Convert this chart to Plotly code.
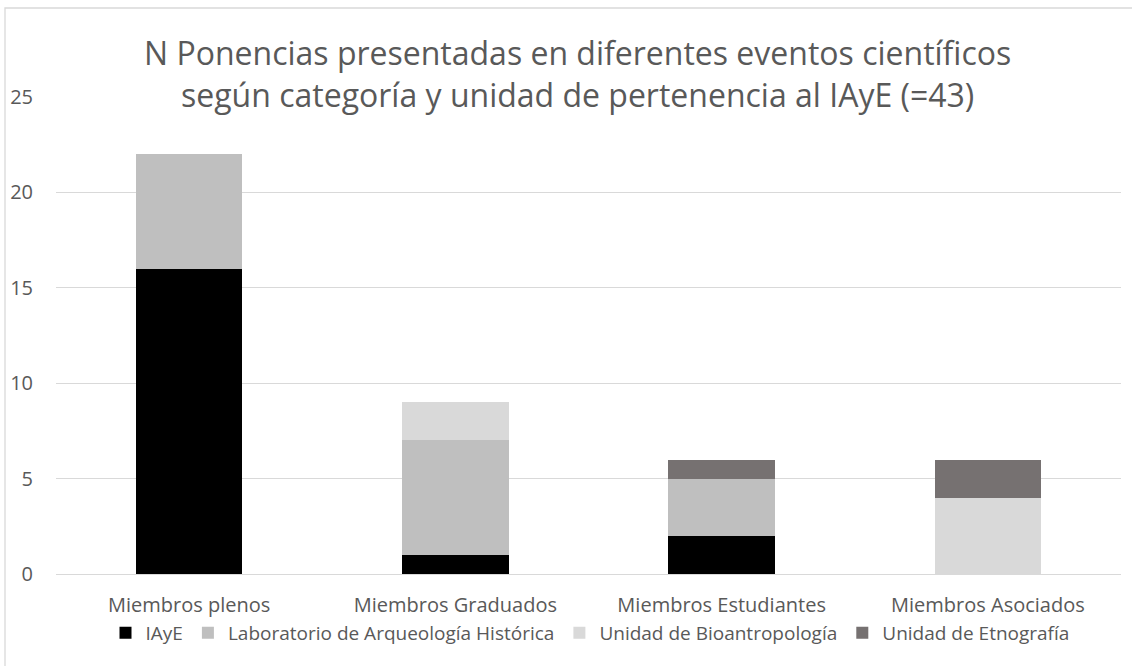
import plotly.graph_objects as go

categories = ["Miembros plenos", "Miembros Graduados", "Miembros Estudiantes", "Miembros Asociados"]
series_names = ["IAyE", "Laboratorio de Arqueología Histórica", "Unidad de Bioantropología", "Unidad de Etnografía"]
iaye = [16, 1, 2, 0]
lab = [6, 6, 3, 0]
bio = [0, 2, 0, 4]
etno = [0, 0, 1, 2]
colors = ["#000000", "#BFBFBF", "#D9D9D9", "#767171"]
y_ticks = [0, 5, 10, 15, 20, 25]
title_lines = ["N Ponencias presentadas en diferentes eventos científicos",
               "según categoría y unidad de pertenencia al IAyE (=43)"]

FONT = "Open Sans, Noto Sans, sans-serif"
GRAY = "#595959"
W, H = 1132, 666
L, R, T, B = 56, 11, 97, 92
PW, PH = W - L - R, H - T - B


def px_x(x):
    return (x - L) / PW


def px_y(y):
    return (H - B - y) / PH


fig = go.Figure()
for name, vals, col in zip(series_names, [iaye, lab, bio, etno], colors):
    fig.add_trace(go.Bar(
        x=categories, y=vals, name=name,
        marker=dict(color=col, line=dict(width=0)),
    ))

annotations = [dict(text="<br>".join(title_lines), xref="paper", yref="paper",
                    x=px_x(577), y=px_y(73), xanchor="center", yanchor="middle",
                    showarrow=False, font=dict(family=FONT, size=32, color=GRAY))]

fig.update_layout(
    barmode="stack",
    bargap=0.6,
    width=W, height=H,
    margin=dict(l=L, r=R, t=T, b=B, autoexpand=False),
    paper_bgcolor="white", plot_bgcolor="white",
    font=dict(family=FONT, color=GRAY, size=20),
    showlegend=True,
    legend=dict(orientation="h", x=px_x(590), xanchor="center", y=px_y(633), yanchor="middle",
                bgcolor="rgba(0,0,0,0)",
                font=dict(family=FONT, size=19, color=GRAY),
                traceorder="normal", itemwidth=30, tracegroupgap=0),
    xaxis=dict(showgrid=False, showline=False, ticks="", ticklabelstandoff=17,
               tickfont=dict(size=20, color=GRAY)),
    yaxis=dict(range=[0, 25], tickvals=y_ticks, showgrid=True, gridcolor="#D9D9D9", gridwidth=1.3,
               zeroline=True, zerolinecolor="#D9D9D9", zerolinewidth=1.3, ticks="",
               ticklabelstandoff=22, tickfont=dict(size=20, color=GRAY)),
    annotations=annotations,
    shapes=[dict(type="rect", xref="paper", yref="paper",
                 x0=px_x(5), x1=px_x(1145), y0=px_y(700), y1=px_y(8),
                 line=dict(color="#D9D9D9", width=1.3), fillcolor="rgba(0,0,0,0)", layer="below")],
)

fig.write_html("out.html", config={"displayModeBar": False},
               post_script="document.body.style.margin='0px';")
